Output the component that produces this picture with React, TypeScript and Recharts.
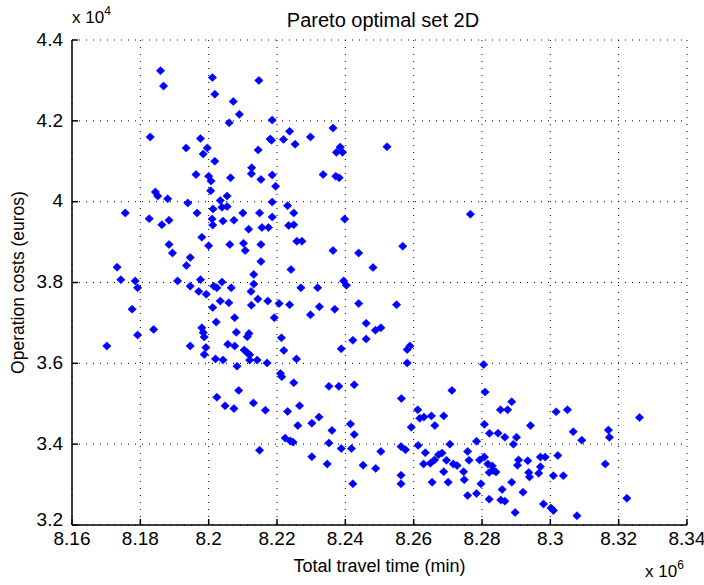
import { ScatterChart, Scatter, XAxis, YAxis, CartesianGrid } from "recharts";

// travel time in 10^6 min, operation cost in 10^4 euros
const xTicks = [8.16, 8.18, 8.2, 8.22, 8.24, 8.26, 8.28, 8.3, 8.32, 8.34];
const yTicks = [3.2, 3.4, 3.6, 3.8, 4, 4.2, 4.4];

const upperLeftPoints: [number, number][] = [
  [8.1859, 4.324], [8.1868, 4.286], [8.2011, 4.307], [8.2018, 4.266], [8.2147, 4.3],
  [8.2072, 4.248], [8.209, 4.216], [8.206, 4.195], [8.2186, 4.202], [8.1829, 4.16],
  [8.1934, 4.133], [8.1976, 4.156], [8.1996, 4.133], [8.1984, 4.118], [8.2018, 4.1],
  [8.1963, 4.067], [8.2, 4.063], [8.2007, 4.051], [8.2064, 4.059], [8.2006, 4.027],
  [8.2126, 4.084], [8.2125, 4.069], [8.2145, 4.128], [8.218, 4.155], [8.2184, 4.152],
  [8.2153, 4.055], [8.2186, 4.066], [8.2196, 4.038], [8.1844, 4.024], [8.1851, 4.014],
  [8.188, 4.007], [8.1939, 3.997], [8.1966, 3.972], [8.1756, 3.972], [8.1826, 3.958],
  [8.1863, 3.943], [8.1884, 3.954], [8.2013, 3.982], [8.2034, 4.003], [8.2054, 4.014],
  [8.2039, 3.986], [8.2054, 3.988], [8.201, 3.957], [8.2012, 3.942], [8.2042, 3.952],
  [8.2074, 3.954], [8.21, 3.972], [8.2149, 3.972], [8.2186, 3.999], [8.2186, 3.962],
  [8.2117, 3.932], [8.2156, 3.936], [8.2175, 3.936], [8.198, 3.912], [8.2, 3.891],
  [8.1884, 3.894], [8.1894, 3.873], [8.2062, 3.894], [8.2102, 3.897], [8.2107, 3.879],
  [8.2153, 3.894], [8.2153, 3.852], [8.1946, 3.862], [8.1935, 3.842], [8.1732, 3.838],
  [8.1743, 3.807], [8.1785, 3.804], [8.1792, 3.787], [8.1909, 3.804], [8.1946, 3.791],
  [8.1976, 3.807], [8.2015, 3.791], [8.2024, 3.787], [8.2039, 3.801], [8.2066, 3.787],
  [8.2132, 3.82], [8.2132, 3.796], [8.2124, 3.778], [8.1971, 3.778], [8.1993, 3.771],
  [8.2237, 4.174], [8.2219, 4.154], [8.2253, 4.142], [8.2298, 4.16], [8.2364, 4.182],
  [8.2385, 4.135], [8.2374, 4.122], [8.2392, 4.122], [8.2522, 4.136], [8.2335, 4.067],
  [8.2372, 4.063], [8.2382, 4.059], [8.2231, 3.99], [8.2249, 3.972], [8.2234, 3.941],
  [8.2249, 3.943], [8.2258, 3.902], [8.2273, 3.902], [8.2398, 3.957], [8.2364, 3.879],
  [8.2439, 3.873], [8.2568, 3.89], [8.2481, 3.837], [8.2241, 3.832], [8.2766, 3.969],
];

const lowerLeftPoints: [number, number][] = [
  [8.2034, 3.754], [8.2059, 3.75], [8.2125, 3.744], [8.2144, 3.759], [8.2173, 3.754],
  [8.2206, 3.748], [8.1776, 3.734], [8.2012, 3.738], [8.2022, 3.702], [8.2076, 3.713],
  [8.2192, 3.713], [8.1839, 3.684], [8.1792, 3.67], [8.198, 3.688], [8.1984, 3.676],
  [8.1987, 3.665], [8.2081, 3.677], [8.2118, 3.674], [8.2113, 3.666], [8.1702, 3.643],
  [8.1946, 3.643], [8.1992, 3.639], [8.1987, 3.622], [8.2056, 3.647], [8.2076, 3.643],
  [8.2104, 3.633], [8.2113, 3.626], [8.212, 3.621], [8.202, 3.611], [8.2042, 3.608],
  [8.2083, 3.593], [8.212, 3.608], [8.2142, 3.608], [8.2171, 3.601], [8.221, 3.575],
  [8.2214, 3.567], [8.2088, 3.533], [8.2024, 3.516], [8.2048, 3.495], [8.2074, 3.488],
  [8.2131, 3.502], [8.2166, 3.484], [8.2149, 3.385],
];

const centerPoints: [number, number][] = [
  [8.2395, 3.804], [8.2403, 3.793], [8.227, 3.787], [8.2319, 3.787], [8.2237, 3.745],
  [8.2324, 3.74], [8.2369, 3.734], [8.2298, 3.72], [8.2439, 3.748], [8.255, 3.745],
  [8.2461, 3.699], [8.2488, 3.682], [8.2504, 3.688], [8.2422, 3.657], [8.2461, 3.66],
  [8.2213, 3.663], [8.222, 3.632], [8.2257, 3.611], [8.2388, 3.636], [8.2581, 3.634],
  [8.2589, 3.643], [8.2581, 3.601], [8.2249, 3.552], [8.2352, 3.543], [8.2381, 3.543],
  [8.2426, 3.547], [8.2564, 3.513], [8.2712, 3.533], [8.2266, 3.495], [8.2231, 3.481],
  [8.2323, 3.467], [8.2302, 3.452], [8.2261, 3.446], [8.2361, 3.434], [8.2415, 3.45],
  [8.2426, 3.424], [8.2224, 3.415], [8.2239, 3.408], [8.2247, 3.405], [8.2352, 3.403],
  [8.2388, 3.389], [8.2418, 3.389], [8.2504, 3.382], [8.2302, 3.369], [8.2347, 3.351],
  [8.2452, 3.348], [8.2489, 3.34], [8.2422, 3.302], [8.2563, 3.394], [8.2576, 3.386],
  [8.2563, 3.323], [8.2563, 3.302], [8.2593, 3.442], [8.2612, 3.485], [8.2618, 3.464],
  [8.263, 3.467], [8.2652, 3.47], [8.2688, 3.47], [8.2662, 3.446], [8.2613, 3.397],
  [8.2706, 3.4], [8.2784, 3.407], [8.2634, 3.379], [8.2629, 3.351], [8.2649, 3.353],
  [8.2661, 3.361], [8.2673, 3.374], [8.2683, 3.378], [8.2696, 3.36], [8.2716, 3.351],
  [8.2727, 3.347], [8.2746, 3.332], [8.2688, 3.332], [8.2654, 3.306], [8.2701, 3.306],
  [8.2758, 3.382], [8.2762, 3.36], [8.2748, 3.312], [8.2758, 3.273], [8.2784, 3.278],
  [8.2793, 3.361],
];

const lowerRightPoints: [number, number][] = [
  [8.2805, 3.597], [8.2809, 3.529], [8.2887, 3.505], [8.2854, 3.485], [8.2875, 3.485],
  [8.2807, 3.449], [8.2822, 3.427], [8.2847, 3.427], [8.2867, 3.417], [8.2901, 3.417],
  [8.2892, 3.4], [8.2942, 3.446], [8.3017, 3.48], [8.305, 3.485], [8.3067, 3.431],
  [8.3092, 3.41], [8.317, 3.435], [8.3173, 3.417], [8.3261, 3.466], [8.2807, 3.368],
  [8.2817, 3.351], [8.283, 3.346], [8.2821, 3.33], [8.2833, 3.335], [8.2841, 3.331],
  [8.2797, 3.302], [8.2859, 3.288], [8.2887, 3.306], [8.2821, 3.264], [8.2855, 3.262],
  [8.2867, 3.259], [8.2897, 3.231], [8.292, 3.281], [8.2907, 3.361], [8.2904, 3.348],
  [8.2934, 3.359], [8.2937, 3.33], [8.2939, 3.319], [8.2966, 3.328], [8.2971, 3.368],
  [8.2985, 3.368], [8.2971, 3.344], [8.298, 3.252], [8.3002, 3.242], [8.3009, 3.236],
  [8.3022, 3.372], [8.3009, 3.322], [8.3038, 3.322], [8.3078, 3.223], [8.3161, 3.351],
  [8.3224, 3.266],
];

const data = [...upperLeftPoints, ...lowerLeftPoints, ...centerPoints, ...lowerRightPoints].map(
  ([time, cost]) => ({ time, cost })
);

const font = "'Liberation Sans', Arial, sans-serif";
const fmt = (v: number) => String(+v.toFixed(2));

function Diamond(props: any) {
  const { cx, cy } = props;
  if (cx == null || cy == null) return null;
  return (
    <polygon
      points={`${cx},${cy - 4} ${cx + 4.2},${cy} ${cx},${cy + 4} ${cx - 4.2},${cy}`}
      fill="#0000ff"
      stroke="#0000ff"
      strokeWidth={0.6}
    />
  );
}

// bottom label sits a bit higher so it clears the x tick labels, as in the original
function YTick(props: any) {
  const { x, y, payload } = props;
  const lift = payload.value === 3.2 ? 6 : 1;
  return (
    <text x={x} y={y - lift} dy="0.355em" textAnchor="end" fill="#000" fontSize={19} fontFamily={font}>
      {fmt(payload.value)}
    </text>
  );
}

const supStyle = { fontSize: 12, verticalAlign: "baseline", position: "relative" as const, top: -8 };

export default function App() {
  return (
    <div style={{ position: "absolute", left: 0, top: 0, width: 704, height: 585, background: "#fff", fontFamily: font }}>
      <div style={{ position: "absolute", left: 0, width: 766, top: 9, textAlign: "center", fontSize: 20, lineHeight: "23px" }}>
        Pareto optimal set 2D
      </div>
      <div style={{ position: "absolute", left: 72, top: 8, fontSize: 17, lineHeight: "20px" }}>
        x 10<span style={supStyle}>4</span>
      </div>
      <div style={{ position: "absolute", left: 645, top: 562, fontSize: 17, lineHeight: "20px" }}>
        x 10<span style={supStyle}>6</span>
      </div>
      <ScatterChart width={704} height={585} margin={{ top: 40, right: 17, bottom: 0, left: 0 }}>
        <CartesianGrid stroke="#000" strokeDasharray="1 6" />
        <XAxis
          type="number"
          dataKey="time"
          domain={[8.16, 8.34]}
          ticks={xTicks}
          tickFormatter={fmt}
          height={60}
          stroke="#000"
          strokeWidth={1.5}
          tickSize={-6}
          tickMargin={13}
          tick={{ fill: "#000", fontSize: 19, fontFamily: font }}
          label={{ value: "Total travel time (min)", position: "insideBottom", offset: 13, fill: "#000", fontSize: 18, fontFamily: font }}
        />
        <YAxis
          type="number"
          dataKey="cost"
          domain={[3.2, 4.4]}
          ticks={yTicks}
          width={72}
          stroke="#000"
          strokeWidth={1.5}
          tickSize={-6}
          tickMargin={15}
          tick={<YTick />}
          label={{ value: "Operation costs (euros)", angle: -90, position: "insideLeft", offset: 18, fill: "#000", fontSize: 17.5, fontFamily: font, style: { textAnchor: "middle" } }}
        />
        <Scatter data={data} shape={<Diamond />} isAnimationActive={false} />
      </ScatterChart>
    </div>
  );
}
